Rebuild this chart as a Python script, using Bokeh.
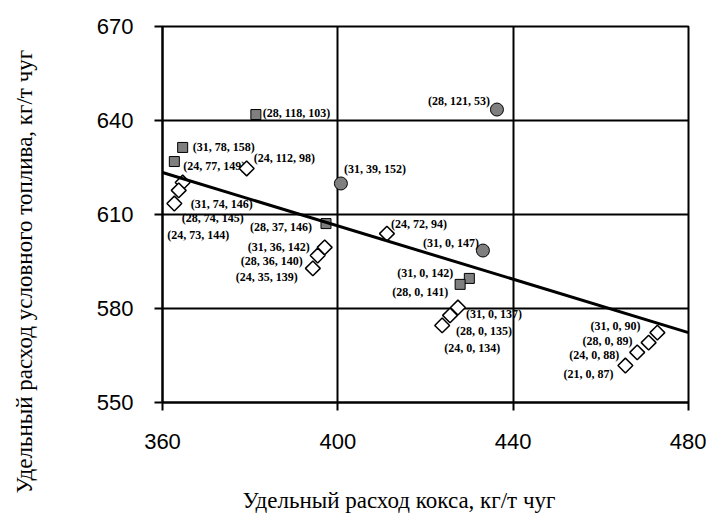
import math
from bokeh.plotting import figure
from bokeh.models import Range1d, FixedTicker, ColumnDataSource, LinearAxis, Title
from bokeh.core.properties import value
from bokeh.embed import file_html
from bokeh.resources import INLINE

# ---- data ----
x_ticks = [360, 400, 440, 480]
y_ticks = [550, 580, 610, 640, 670]

squares_x = [381.3, 364.6, 362.7, 397.3, 430.0, 427.9]
squares_y = [641.9, 631.4, 626.9, 607.1, 589.6, 587.7]
squares_lab = ["(28, 118, 103)", "(31, 78, 158)", "(24, 77, 149)",
               "(28, 37, 146)", "(31, 0, 142)", "(28, 0, 141)"]

circles_x = [400.7, 436.3, 433.1]
circles_y = [619.9, 643.5, 598.5]
circles_lab = ["(31, 39, 152)", "(28, 121, 53)", "(31, 0, 147)"]

diamonds_x = [379.2, 364.6, 363.7, 362.7, 397.0, 395.4, 394.3, 411.2,
              427.4, 425.6, 423.8, 472.9, 470.9, 468.3, 465.6]
diamonds_y = [624.7, 620.2, 617.7, 613.5, 599.5, 596.9, 592.8, 603.9,
              580.3, 577.8, 574.6, 572.3, 569.1, 566.0, 561.8]
diamonds_lab = ["(24, 112, 98)", "(31, 74, 146)", "(28, 74, 145)", "(24, 73, 144)",
                "(31, 36, 142)", "(28, 36, 140)", "(24, 35, 139)", "(24, 72, 94)",
                "(31, 0, 137)", "(28, 0, 135)", "(24, 0, 134)",
                "(31, 0, 90)", "(28, 0, 89)", "(24, 0, 88)", "(21, 0, 87)"]

trend_x = [360, 480]
trend_y = [623.4, 572.3]

x_title = "Удельный расход кокса, кг/т чуг"
y_title = "Удельный расход условного топлива, кг/т чуг"

# ---- label placement (screen px offsets, alignment) ----
squares_pos = [(7, -2, "left"), (10, 0, "left"), (9, 4, "left"),
               (-14, 3, "right"), (-16, -5, "right"), (-12, 8, "right")]
circles_pos = [(3, -14, "left"), (-7, -9, "right"), (-4, -8, "right")]
diamonds_pos = [(7, -10, "left"), (8, 21, "left"), (3, 28, "left"), (-7, 31, "left"),
                (-15, 0, "right"), (-15, 5, "right"), (-15, 9, "right"), (4, -10, "left"),
                (8, 6, "left"), (6, 16, "left"), (2, 23, "left"),
                (-17, -7, "right"), (-16, -2, "right"), (-18, 3, "right"), (-12, 8, "right")]

p = figure(width=706, height=520, output_backend="svg", toolbar_location=None,
           x_range=Range1d(360, 480), y_range=Range1d(550, 670),
           min_border_left=162, min_border_right=18, min_border_top=26,
           min_border_bottom=118)

p.outline_line_color = "black"
p.outline_line_width = 2
p.background_fill_color = "white"
p.border_fill_color = "white"

for ax in (p.xaxis[0], p.yaxis[0]):
    ax.axis_line_color = "black"
    ax.axis_line_width = 2
    ax.major_tick_line_color = "black"
    ax.major_tick_line_width = 2
    ax.major_tick_out = 8
    ax.major_tick_in = 0
    ax.minor_tick_line_color = None
    ax.major_label_text_font = "Liberation Sans"
    ax.major_label_text_font_size = "22px"
    ax.major_label_text_color = "black"

p.xaxis[0].ticker = FixedTicker(ticks=x_ticks)
p.yaxis[0].ticker = FixedTicker(ticks=y_ticks)
p.xaxis[0].major_label_standoff = 23
p.yaxis[0].major_label_standoff = 21

p.xgrid[0].ticker = FixedTicker(ticks=x_ticks)
p.ygrid[0].ticker = FixedTicker(ticks=y_ticks)
for g in (p.xgrid[0], p.ygrid[0]):
    g.grid_line_color = "black"
    g.grid_line_width = 2
    g.grid_line_alpha = 1.0


def spacer(px, at):
    # blank axis (white tick on white, no label) used only as a gap before the title
    return LinearAxis(ticker=FixedTicker(ticks=[at]), axis_line_color=None,
                      major_tick_line_color="white", major_tick_line_width=1,
                      minor_tick_line_color=None, major_tick_out=px, major_tick_in=0,
                      major_label_standoff=0, major_label_text_color=None,
                      major_label_text_font_size="1px")


p.add_layout(spacer(34, 420), "below")
p.add_layout(spacer(57, 610), "left")

p.add_layout(Title(text=x_title, align="left", offset=80, standoff=0,
                   vertical_align="bottom",
                   text_font="Liberation Serif", text_font_size="23px",
                   text_font_style="normal", text_color="black"), "below")
p.add_layout(Title(text=y_title, align="left", offset=-91, standoff=0,
                   vertical_align="bottom",
                   text_font="Liberation Serif", text_font_size="23px",
                   text_font_style="normal", text_color="black"), "left")

lab_font = value("Liberation Serif")


def add_group(xs, ys, labs, pos, marker, size, fill, lw, angle=0.0):
    src = ColumnDataSource(dict(x=xs, y=ys, t=labs,
                                dx=[q[0] for q in pos], dy=[q[1] for q in pos],
                                al=[q[2] for q in pos]))
    p.scatter("x", "y", source=src, marker=marker, size=size, fill_color=fill,
              line_color="black", line_width=lw, angle=angle)
    p.text("x", "y", text="t", source=src, x_offset="dx", y_offset="dy",
           text_align="al", text_baseline="middle", text_font=lab_font,
           text_font_size="12px", text_font_style="bold", text_color="black")


add_group(squares_x, squares_y, squares_lab, squares_pos, "square", 10, "#7f7f7f", 1)
add_group(circles_x, circles_y, circles_lab, circles_pos, "circle", 13, "#7f7f7f", 1)
add_group(diamonds_x, diamonds_y, diamonds_lab, diamonds_pos, "square", 10.5, "white",
          1.5, angle=math.pi / 4)

p.line(trend_x, trend_y, line_color="black", line_width=3)

open("out.html", "w").write(file_html(p, INLINE))
